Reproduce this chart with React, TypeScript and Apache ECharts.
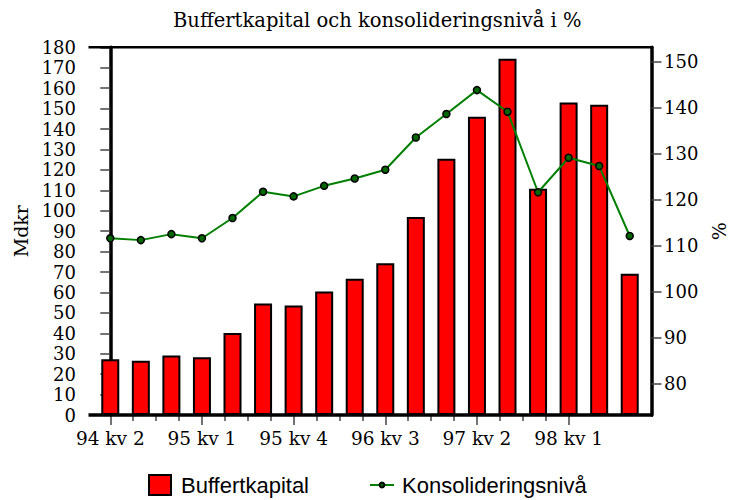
import React, { useEffect, useRef } from "react";
import * as echarts from "echarts";

const categories = [
  "94 kv 2", "94 kv 3", "94 kv 4", "95 kv 1", "95 kv 2", "95 kv 3",
  "95 kv 4", "96 kv 1", "96 kv 2", "96 kv 3", "96 kv 4", "97 kv 1",
  "97 kv 2", "97 kv 3", "97 kv 4", "98 kv 1", "98 kv 2", "98 kv 3",
];
const buffertkapital = [
  27.3, 26.5, 29.1, 28.3, 40.2, 54.6, 53.6, 60.5, 66.7, 74.3, 96.9, 125.4,
  146.0, 174.4, 110.7, 153.0, 151.9, 69.2,
];
const konsolidering = [
  111.6, 111.2, 112.5, 111.6, 116.0, 121.7, 120.7, 123.0, 124.6, 126.5, 133.5,
  138.6, 143.8, 139.1, 121.6, 129.1, 127.3, 112.1,
];
const rightTicks = [80, 90, 100, 110, 120, 130, 140, 150];
const minorTickPositions = [
  0.75, 1.5, 2.25, 3.75, 4.5, 5.25, 6.75, 7.5, 8.25, 9.75, 10.5, 11.25, 12.75,
  13.5, 14.25,
];

const SERIF = "DejaVu Serif";
const SANS = "Liberation Sans";

export default function App() {
  const ref = useRef<HTMLDivElement>(null);
  useEffect(() => {
    if (!ref.current) return;
    const chart = echarts.init(ref.current, null, { renderer: "svg" });
    const gridLeft = 95;
    const gridRight = 94;
    const gridTop = 47.3;
    const gridBottom = 85;
    chart.setOption({
      animation: false,
      backgroundColor: "#fff",
      title: {
        text: "Buffertkapital och konsolideringsnivå i %",
        left: 168,
        top: 5,
        textStyle: {
          fontFamily: SERIF,
          fontSize: 19.5,
          fontWeight: "normal",
          color: "#000",
        },
      },
      grid: { left: gridLeft, right: gridRight, top: gridTop, bottom: gridBottom },
      legend: [
        {
          data: [{ name: "Buffertkapital", icon: "rect" }],
          left: 143,
          top: 468,
          itemWidth: 22,
          itemHeight: 20,
          textStyle: {
            fontFamily: SANS,
            fontSize: 22,
            color: "#000",
            lineHeight: 24,
            padding: [0, 0, 0, 5],
          },
        },
        {
          data: ["Konsolideringsnivå"],
          left: 364,
          top: 468,
          itemWidth: 24,
          itemHeight: 6,
          textStyle: {
            fontFamily: SANS,
            fontSize: 22,
            color: "#000",
            lineHeight: 24,
            padding: [0, 0, 0, 3],
          },
        },
      ],
      xAxis: [
        {
          type: "category",
          data: categories,
          boundaryGap: true,
          axisLine: { show: false },
          axisTick: {
            show: true,
            alignWithLabel: true,
            interval: 2,
            length: 10,
            lineStyle: { color: "#444", width: 1.5 },
          },
          axisLabel: {
            interval: 2,
            margin: 14,
            fontFamily: SERIF,
            fontSize: 18.5,
            color: "#000",
          },
          splitLine: { show: false },
        },
        {
          type: "value",
          position: "bottom",
          min: -0.5,
          max: 17.5,
          axisLine: { show: false },
          axisLabel: { show: false },
          splitLine: { show: false },
          axisTick: {
            show: true,
            customValues: minorTickPositions,
            length: 6,
            lineStyle: { color: "#444", width: 1.5 },
          },
        },
      ],
      yAxis: [
        {
          type: "value",
          min: 0,
          max: 180,
          interval: 10,
          offset: 5,
          name: "Mdkr",
          nameLocation: "middle",
          nameGap: 59,
          nameTextStyle: { fontFamily: SERIF, fontSize: 19, color: "#000" },
          axisLine: { show: true, lineStyle: { color: "#000", width: 3.5 } },
          axisTick: { show: true, length: 10, lineStyle: { color: "#444", width: 1.5 } },
          axisLabel: { margin: 14, fontFamily: SERIF, fontSize: 18, color: "#000" },
          splitLine: { show: false },
        },
        {
          type: "value",
          position: "right",
          min: 73.2,
          max: 153.1,
          offset: 6.5,
          name: "%",
          nameLocation: "middle",
          nameGap: 55,
          nameTextStyle: { fontFamily: SERIF, fontSize: 19, color: "#000" },
          axisLine: { show: true, lineStyle: { color: "#000", width: 3.5 } },
          axisTick: {
            show: true,
            customValues: rightTicks,
            length: 10,
            lineStyle: { color: "#444", width: 1.5 },
          },
          axisLabel: {
            customValues: rightTicks,
            margin: 12.5,
            fontFamily: SERIF,
            fontSize: 18,
            color: "#000",
          },
          splitLine: { show: false },
        },
      ],
      graphic: [
        {
          type: "line",
          shape: { x1: 88.5, y1: gridTop, x2: 653, y2: gridTop },
          style: { stroke: "#000", lineWidth: 2.5 },
          z: 100,
        },
        {
          type: "line",
          shape: { x1: 88.5, y1: 500 - gridBottom, x2: 653, y2: 500 - gridBottom },
          style: { stroke: "#000", lineWidth: 3.5 },
          z: 100,
        },
      ],
      series: [
        {
          name: "Buffertkapital",
          type: "bar",
          xAxisIndex: 0,
          yAxisIndex: 0,
          data: buffertkapital,
          barWidth: 18,
          itemStyle: { color: "#ff0000", borderColor: "#000", borderWidth: 2 },
        },
        {
          name: "Konsolideringsnivå",
          type: "line",
          xAxisIndex: 0,
          yAxisIndex: 1,
          data: konsolidering,
          symbol: "circle",
          symbolSize: 7,
          lineStyle: { color: "#008000", width: 2 },
          itemStyle: { color: "#006600", borderColor: "#000", borderWidth: 1.5 },
          z: 5,
        },
      ],
    });
    return () => chart.dispose();
  }, []);
  return (
    <div
      ref={ref}
      style={{ position: "fixed", left: 0, top: 0, width: 739, height: 500 }}
    />
  );
}
